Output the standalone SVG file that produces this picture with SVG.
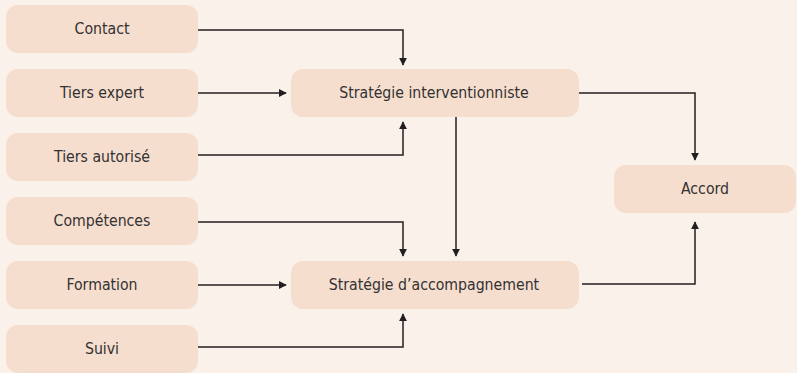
<svg xmlns="http://www.w3.org/2000/svg" width="797" height="373" viewBox="0 0 797 373">
<style>
.bg{fill:#faf1eb}
.box{fill:#f5dece}
.t{font-family:"DejaVu Sans Condensed","DejaVu Sans",sans-serif;font-stretch:condensed;font-size:15.7px;fill:#333132;text-anchor:middle;dominant-baseline:central}
.c{fill:none;stroke:#231f20;stroke-width:1.5}
</style>
<defs>
<marker id="ah" viewBox="0 0 10 10" refX="9" refY="5" markerWidth="8" markerHeight="9" markerUnits="userSpaceOnUse" orient="auto">
<path d="M0,0 L10,5 L0,10 z" fill="#231f20"/>
</marker>
</defs>
<rect class="bg" x="0" y="0" width="797" height="373"/>
<g id="contact"><rect class="box" x="6" y="5" width="192" height="48" rx="12"/><text class="t" x="102" y="28">Contact</text></g>
<g id="tiers-expert"><rect class="box" x="6" y="69" width="192" height="48" rx="12"/><text class="t" x="102" y="92">Tiers expert</text></g>
<g id="tiers-autorise"><rect class="box" x="6" y="133" width="192" height="48" rx="12"/><text class="t" x="102" y="156">Tiers autorisé</text></g>
<g id="competences"><rect class="box" x="6" y="197" width="192" height="48" rx="12"/><text class="t" x="102" y="220">Compétences</text></g>
<g id="formation"><rect class="box" x="6" y="261" width="192" height="48" rx="12"/><text class="t" x="102" y="284">Formation</text></g>
<g id="suivi"><rect class="box" x="6" y="325" width="192" height="48" rx="12"/><text class="t" x="102" y="348">Suivi</text></g>
<g id="strategie-interventionniste"><rect class="box" x="291" y="69" width="288" height="48" rx="12"/><text class="t" x="434" y="92">Stratégie interventionniste</text></g>
<g id="strategie-accompagnement"><rect class="box" x="291" y="261" width="288" height="48" rx="12"/><text class="t" x="434" y="284">Stratégie d’accompagnement</text></g>
<g id="accord"><rect class="box" x="614" y="165" width="182" height="48" rx="12"/><text class="t" x="705" y="188">Accord</text></g>
<g id="connectors">
<path class="c" d="M198,30 H403 V65" marker-end="url(#ah)"/>
<path class="c" d="M198,93 H286" marker-end="url(#ah)"/>
<path class="c" d="M198,155 H403 V122" marker-end="url(#ah)"/>
<path class="c" d="M579,93 H695 V160" marker-end="url(#ah)"/>
<path class="c" d="M456,117 V256" marker-end="url(#ah)"/>
<path class="c" d="M198,222 H403 V256" marker-end="url(#ah)"/>
<path class="c" d="M198,285 H286" marker-end="url(#ah)"/>
<path class="c" d="M198,347 H403 V314" marker-end="url(#ah)"/>
<path class="c" d="M582,284 H695 V222" marker-end="url(#ah)"/>
</g>
</svg>
